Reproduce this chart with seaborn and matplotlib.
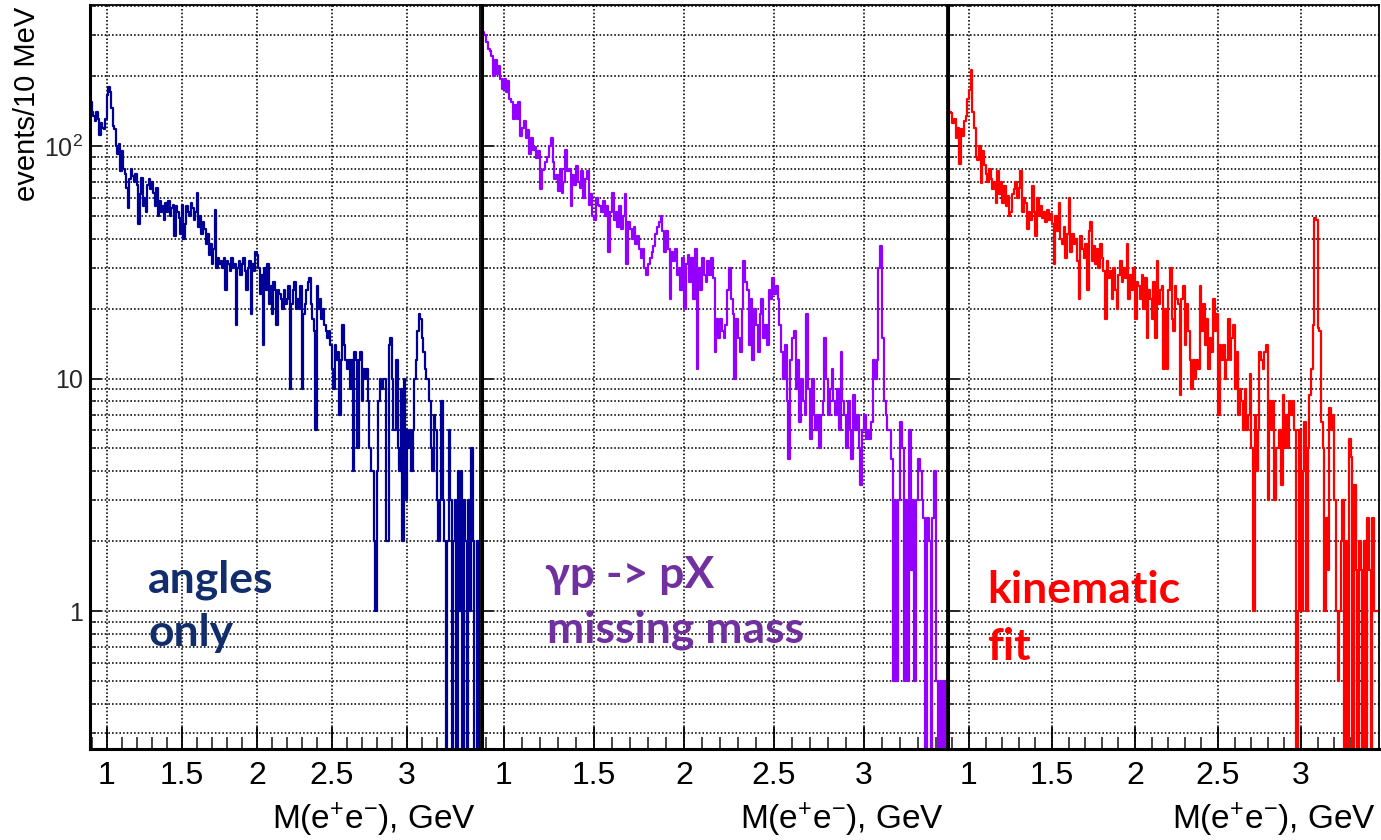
import numpy as np
import pandas as pd
import matplotlib
matplotlib.use("Agg")
import matplotlib.pyplot as plt
import seaborn as sns
from matplotlib.ticker import FixedLocator, MultipleLocator, LogLocator, NullFormatter

sns.set_style("white")
plt.rcParams["font.family"] = ["Liberation Sans", "DejaVu Sans"]
plt.rcParams["mathtext.fontset"] = "custom"
plt.rcParams["mathtext.rm"] = "Liberation Sans"
plt.rcParams["mathtext.it"] = "Liberation Sans:italic"
plt.rcParams["mathtext.bf"] = "Liberation Sans:bold"

# ---------------- data (events per 10 MeV bin, first bin starts at 0.87 GeV) ----------------
BIN_START = 0.87
BIN_WIDTH = 0.01

counts_angles = [
    160, 150, 155, 140, 135, 128, 140, 130, 112, 125,
    120, 118, 130, 165, 180, 170, 145, 122, 118, 100,
    92, 102, 78, 95, 80, 76, 66, 54, 72, 80,
    74, 70, 76, 68, 46, 62, 73, 55, 60, 52,
    68, 72, 65, 70, 63, 55, 66, 50, 58, 52,
    55, 48, 57, 52, 58, 50, 54, 56, 41, 55,
    52, 49, 42, 56, 40, 46, 55, 52, 50, 57,
    54, 48, 52, 63, 45, 50, 42, 47, 44, 38,
    42, 34, 38, 31, 36, 53, 30, 33, 31, 32,
    30, 33, 24, 32, 31, 29, 33, 30, 31, 17,
    30, 32, 28, 31, 33, 29, 24, 30, 32, 19,
    31, 29, 35, 34, 30, 23, 28, 14, 30, 24,
    31, 21, 25, 19, 26, 24, 17, 24, 23, 22,
    20, 24, 21, 22, 25, 9, 21, 24, 26, 20,
    22, 20, 25, 9, 19, 21, 24, 26, 27, 21,
    18, 16, 6, 25, 20, 22, 18, 20, 17, 16,
    15, 16, 14, 11, 9, 14, 12, 13, 7, 12,
    17, 14, 12, 11, 12, 9, 12, 4, 13, 12,
    5, 12, 13, 8, 11, 10, 11, 8, 5, 4,
    4, 2, 1, 4, 8, 10, 9, 10, 10, 2,
    2, 14, 15, 10, 6, 6, 12, 5, 4, 9,
    2, 10, 3, 6, 5, 6, 4, 6, 10, 12,
    16, 19, 18, 15, 13, 11, 10, 10, 8, 5,
    4, 7, 6, 3, 2, 3, 8, 3, 2, 0,
    2, 6, 3, 0, 2, 3, 0, 4, 1, 4,
    0, 3, 2, 0, 3, 1, 5, 2, 0, 0,
    2, 0,
]

counts_missing = [
    320, 310, 300, 280, 262, 255, 245, 200, 235, 205,
    220, 195, 175, 195, 170, 190, 160, 155, 130, 150,
    130, 155, 110, 120, 128, 108, 117, 92, 108, 96,
    99, 89, 95, 65, 79, 80, 85, 90, 100, 108,
    85, 72, 75, 64, 80, 63, 70, 96, 78, 80,
    55, 75, 68, 82, 70, 66, 78, 60, 72, 78,
    56, 62, 50, 48, 60, 56, 55, 52, 58, 50,
    55, 35, 52, 63, 48, 52, 45, 55, 44, 50,
    62, 31, 47, 44, 40, 45, 38, 41, 36, 33,
    36, 30, 28, 31, 33, 35, 37, 42, 45, 47,
    50, 43, 35, 43, 36, 22, 35, 32, 36, 28,
    30, 24, 33, 20, 31, 34, 26, 33, 22, 36,
    11, 30, 24, 33, 28, 26, 32, 28, 33, 27,
    13, 18, 15, 18, 16, 15, 17, 24, 30, 22,
    19, 10, 18, 15, 13, 20, 32, 26, 24, 14,
    22, 12, 20, 17, 13, 19, 22, 15, 17, 14,
    24, 22, 27, 23, 25, 22, 17, 13, 10, 14,
    8, 4.5, 12, 15, 16, 9, 12, 6.5, 10, 8,
    7, 19, 9, 5.5, 10, 7, 6, 7, 5, 7,
    8, 15, 10, 7, 9, 11, 8, 7, 9, 6,
    13, 8, 7, 5, 8, 6, 4.5, 8.5, 6, 7,
    5, 3.5, 6, 7, 5.5, 6, 5.5, 6.5, 12, 10,
    12, 30, 37, 15, 8, 7, 6, 6, 4.5, 0.5,
    3, 0.5, 3, 6.5, 5, 0.5, 3, 0.5, 6, 1.5,
    3, 0.5, 3, 4.5, 4, 3, 2.5, 0, 2.5, 2,
    0, 2.5, 4, 0.5, 0, 0.5, 0, 0.5, 0, 0,
]

counts_kinfit = [
    160, 140, 138, 125, 130, 108, 120, 84, 118, 110,
    128, 135, 160, 174, 212, 140, 119, 90, 87, 100,
    69, 95, 83, 76, 70, 80, 72, 65, 70, 57,
    78, 62, 70, 57, 67, 55, 61, 50, 52, 62,
    65, 70, 60, 66, 78, 52, 60, 57, 44, 52,
    48, 67, 52, 41, 60, 50, 55, 49, 52, 47,
    53, 48, 51, 46, 31, 50, 43, 57, 40, 38,
    45, 33, 42, 60, 35, 42, 38, 40, 32, 22,
    41, 36, 33, 38, 24, 43, 47, 32, 37, 31,
    36, 30, 38, 33, 29, 18, 32, 27, 29, 22,
    30, 24, 20, 28, 32, 26, 30, 27, 38, 22,
    28, 24, 30, 18, 26, 25, 22, 28, 20, 27,
    15, 24, 22, 18, 26, 15, 32, 21, 24, 25,
    11, 20, 11, 24, 30, 18, 16, 25, 22, 21,
    8.5, 22, 25, 14, 21, 16, 12, 9, 12, 10,
    12, 11, 25, 16, 21, 14, 18, 11, 15, 13,
    22, 16, 19, 7, 14, 12, 14, 10, 12, 18,
    12, 15, 17, 9, 13, 7, 9, 8, 6, 9,
    6, 7, 10.5, 5, 1, 7, 4, 6, 13, 12,
    11, 13, 14, 3, 8, 6, 8, 3, 5, 5,
    6, 3.5, 8.5, 5, 7, 5, 8, 7, 8, 6,
    0, 1, 6, 1, 4, 6.5, 1, 5, 8.5, 11,
    17, 49, 48, 16.5, 16, 6.5, 5, 1, 2.5, 1.5,
    7.5, 6, 7, 3, 1, 0.5, 1, 2, 3, 0,
    2, 0, 5.5, 4.6, 0, 3.5, 1.5, 0, 2, 1.5,
    0, 2, 0, 2.5, 1.5, 0, 2.5, 1, 1, 1,
]

panel_titles = [["angles", "only"], ["\u03b3p -> pX", "missing mass"], ["kinematic", "fit"]]
x_tick_values = [1, 1.5, 2, 2.5, 3]
x_tick_labels = ["1", "1.5", "2", "2.5", "3"]
y_tick_values = [1, 10, 100]
y_tick_labels = ["1", "10", r"$\mathregular{10^{2}}$"]
x_axis_title = r"M(e$^{+}$e$^{-}$), GeV"
y_axis_title = "events/10 MeV"

# ---------------- layout / style ----------------
W, H = 1381, 840
fig = plt.figure(figsize=(W / 100, H / 100), dpi=100)

AX_TOP, AX_BOTTOM = 5, 749
panels = [
    dict(counts=counts_angles, color="#000099", px=(90, 480), xlim=(0.887, 3.487),
         tcolor="#122d6b", tpos=[(148, 592), (148, 646)], xlab_right=476, ylabels=True),
    dict(counts=counts_missing, color="#9400ff", px=(482, 947), xlim=(0.878, 3.461),
         tcolor="#7030a0", tpos=[(545, 588), (547, 643)], xlab_right=944, ylabels=False),
    dict(counts=counts_kinfit, color="#ff0000", px=(948, 1379), xlim=(0.8735, 3.470),
         tcolor="#ff0000", tpos=[(987, 603), (987, 660)], xlab_right=1376, ylabels=False),
]

dot = (0, (1.0, 1.3))

for i, p in enumerate(panels):
    l, r = p["px"]
    ax = fig.add_axes([l / W, (H - AX_BOTTOM) / H, (r - l) / W, (AX_BOTTOM - AX_TOP) / H])
    counts = np.asarray(p["counts"], dtype=float)
    nbins = len(counts)
    lo = BIN_START
    hi = BIN_START + BIN_WIDTH * nbins
    centers = lo + BIN_WIDTH * (np.arange(nbins) + 0.5)
    df = pd.DataFrame({"mass": centers, "events": counts})
    sns.histplot(data=df, x="mass", weights="events", bins=nbins, binrange=(lo, hi),
                 element="step", fill=False, color=p["color"], linewidth=1.6, ax=ax)
    ax.set_yscale("log")
    ax.set_ylim(0.255, 404)
    ax.set_xlim(*p["xlim"])
    ax.set_xlabel("")
    ax.set_ylabel("")
    ax.set_facecolor("white")

    ax.xaxis.set_major_locator(FixedLocator(x_tick_values))
    ax.set_xticklabels(x_tick_labels)
    ax.xaxis.set_minor_locator(MultipleLocator(0.1))
    ax.yaxis.set_major_locator(FixedLocator(y_tick_values))
    ax.yaxis.set_minor_locator(LogLocator(base=10, subs=np.arange(2, 10), numticks=20))
    ax.yaxis.set_minor_formatter(NullFormatter())
    if p["ylabels"]:
        ax.set_yticklabels(y_tick_labels)
    else:
        ax.set_yticklabels([])

    ax.tick_params(axis="x", which="major", direction="in", length=16, width=1.3,
                   labelsize=23, pad=9, colors="black", bottom=True, top=False)
    ax.tick_params(axis="x", which="minor", direction="in", length=9, width=1.2,
                   bottom=True, top=False)
    ax.tick_params(axis="y", which="major", direction="in", length=8, width=1.4,
                   labelsize=18, pad=5, left=True, right=False)
    ax.tick_params(axis="y", which="minor", direction="in", length=4, width=1.1,
                   left=True, right=False)

    ax.grid(True, which="major", axis="x", color="black", linestyle=dot, linewidth=1.15)
    ax.grid(True, which="both", axis="y", color="black", linestyle=dot, linewidth=1.15)
    ax.set_axisbelow(True)

    for side, sp in ax.spines.items():
        sp.set_visible(True)
        sp.set_color("black")
        sp.set_linewidth(2.2 if side in ("left", "bottom") else 1.3)

    fig.text(p["xlab_right"] / W, (H - 829) / H, x_axis_title, ha="right", va="baseline",
             fontsize=24, color="black")

    for (tx, ty), line in zip(p["tpos"], panel_titles[i]):
        fig.text(tx / W, (H - ty) / H, line, ha="left", va="baseline", fontsize=32,
                 fontweight="bold", color=p["tcolor"], family=["Lato", "DejaVu Sans"])

fig.text(27 / W, (H - 7) / H, y_axis_title, rotation=90, ha="center", va="top",
         fontsize=21, color="black")

fig.savefig("out.png", dpi=100, facecolor="white")
